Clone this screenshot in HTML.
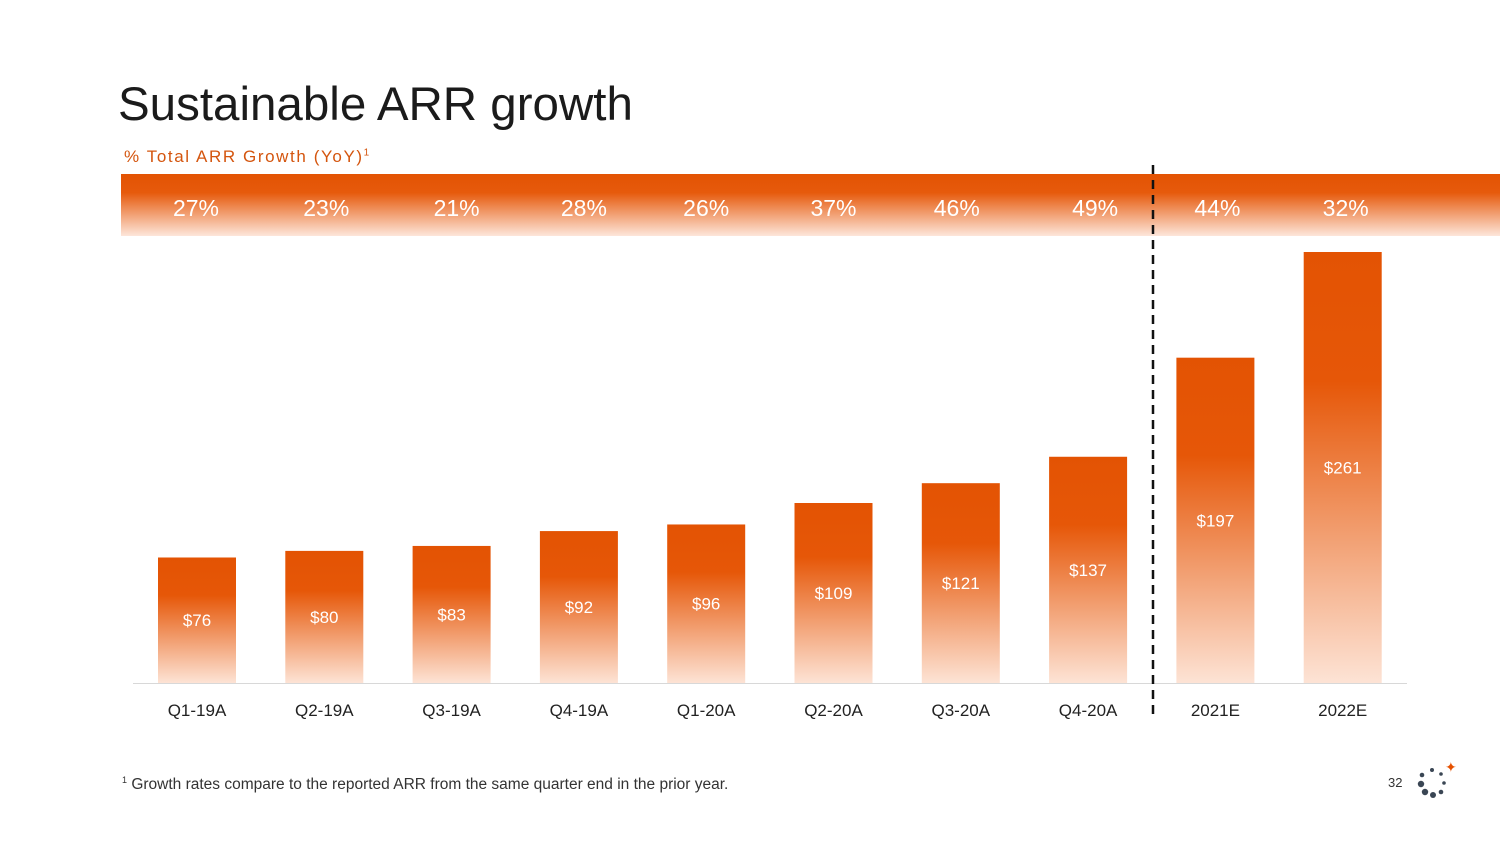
<!DOCTYPE html>
<html><head><meta charset="utf-8"><style>
body{margin:0;width:1500px;height:843px;background:#fff;overflow:hidden;font-family:"Liberation Sans",sans-serif;position:relative}
.abs{position:absolute}
</style></head><body>
<div class="abs" style="left:118px;top:77px;font-size:47.5px;color:#1b1b1b;">Sustainable ARR growth</div>
<div class="abs" style="left:124px;top:147px;font-size:17px;color:#d4550e;letter-spacing:1.6px">% Total ARR Growth (YoY)<sup style="font-size:10px">1</sup></div>
<svg class="abs" style="left:0;top:0" width="1500" height="843">
<defs>
<linearGradient id="bg" x1="0" y1="0" x2="0" y2="1"><stop offset="0" stop-color="#e35303"/><stop offset="0.3" stop-color="#e65708"/><stop offset="1" stop-color="#fde3d5"/></linearGradient>
<linearGradient id="band" x1="0" y1="0" x2="0" y2="1"><stop offset="0" stop-color="#e35303"/><stop offset="0.3" stop-color="#e65a0c"/><stop offset="1" stop-color="#fde6da"/></linearGradient>
</defs>
<rect x="121" y="174" width="1379" height="62" fill="url(#band)"/>
<g id="bars"></g>
<line x1="133" y1="683.5" x2="1407" y2="683.5" stroke="#d8d8d8"/>
<line x1="1153" y1="165" x2="1153" y2="720" stroke="#111" stroke-width="2.5" stroke-dasharray="9,6"/>
</svg>
<div class="abs" style="left:122px;top:775px;font-size:15.5px;color:#333"><sup style="font-size:9px">1</sup> Growth rates compare to the reported ARR from the same quarter end in the prior year.</div>
<div class="abs" style="left:1388px;top:775px;font-size:13px;color:#333">32</div>
<svg class="abs" style="left:1414px;top:760px" width="46" height="40">
<circle cx="8" cy="15" r="2.3" fill="#3a4654"/><circle cx="18" cy="10" r="2" fill="#3a4654"/><circle cx="27" cy="14" r="1.8" fill="#3a4654"/>
<circle cx="7" cy="24" r="3.2" fill="#3a4654"/><circle cx="30" cy="23" r="1.8" fill="#3a4654"/>
<circle cx="11" cy="32" r="3.2" fill="#3a4654"/><circle cx="19" cy="35" r="3" fill="#3a4654"/><circle cx="27" cy="32" r="2.3" fill="#3a4654"/>
<text x="31" y="12" font-size="14" fill="#e65100" font-family="DejaVu Sans">✦</text>
</svg>
<script>
const categories=["Q1-19A","Q2-19A","Q3-19A","Q4-19A","Q1-20A","Q2-20A","Q3-20A","Q4-20A","2021E","2022E"];
const arrValues=[76,80,83,92,96,109,121,137,197,261];
const growthLabels=["27%","23%","21%","28%","26%","37%","46%","49%","44%","32%"];
const growthOffsets=[-1,2,5,5,0,0,-4,7,2,3];
const NS="http://www.w3.org/2000/svg";
const baseY=683, scale=431/261, x0=197, step=127.3, bw=78;
const xPos=i=>x0+i*step, yPos=v=>baseY-v*scale;
const g=document.getElementById('bars');
const svg=g.ownerSVGElement;
function t(x,y,s,size,fill,name){const e=document.createElementNS(NS,'text');e.setAttribute('x',x);e.setAttribute('y',y);e.setAttribute('text-anchor','middle');e.setAttribute('font-size',size);e.setAttribute('fill',fill);e.setAttribute('font-family','Liberation Sans, sans-serif');e.textContent=s;


svg.appendChild(e);return e;}
categories.forEach((c,i)=>{
const cx=xPos(i),top=yPos(arrValues[i]);
const r=document.createElementNS(NS,'rect');
r.setAttribute('x',cx-bw/2);r.setAttribute('y',top);r.setAttribute('width',bw);r.setAttribute('height',baseY-top);r.setAttribute('fill','url(#bg)');


g.appendChild(r);
t(cx,(top+baseY)/2+6,'$'+arrValues[i],17,'#fff','value-label');
t(cx,716,c,17,'#222','x-tick-label');
t(cx+growthOffsets[i],216,growthLabels[i],23,'#fff','growth-label');
});
</script>
</body></html>
